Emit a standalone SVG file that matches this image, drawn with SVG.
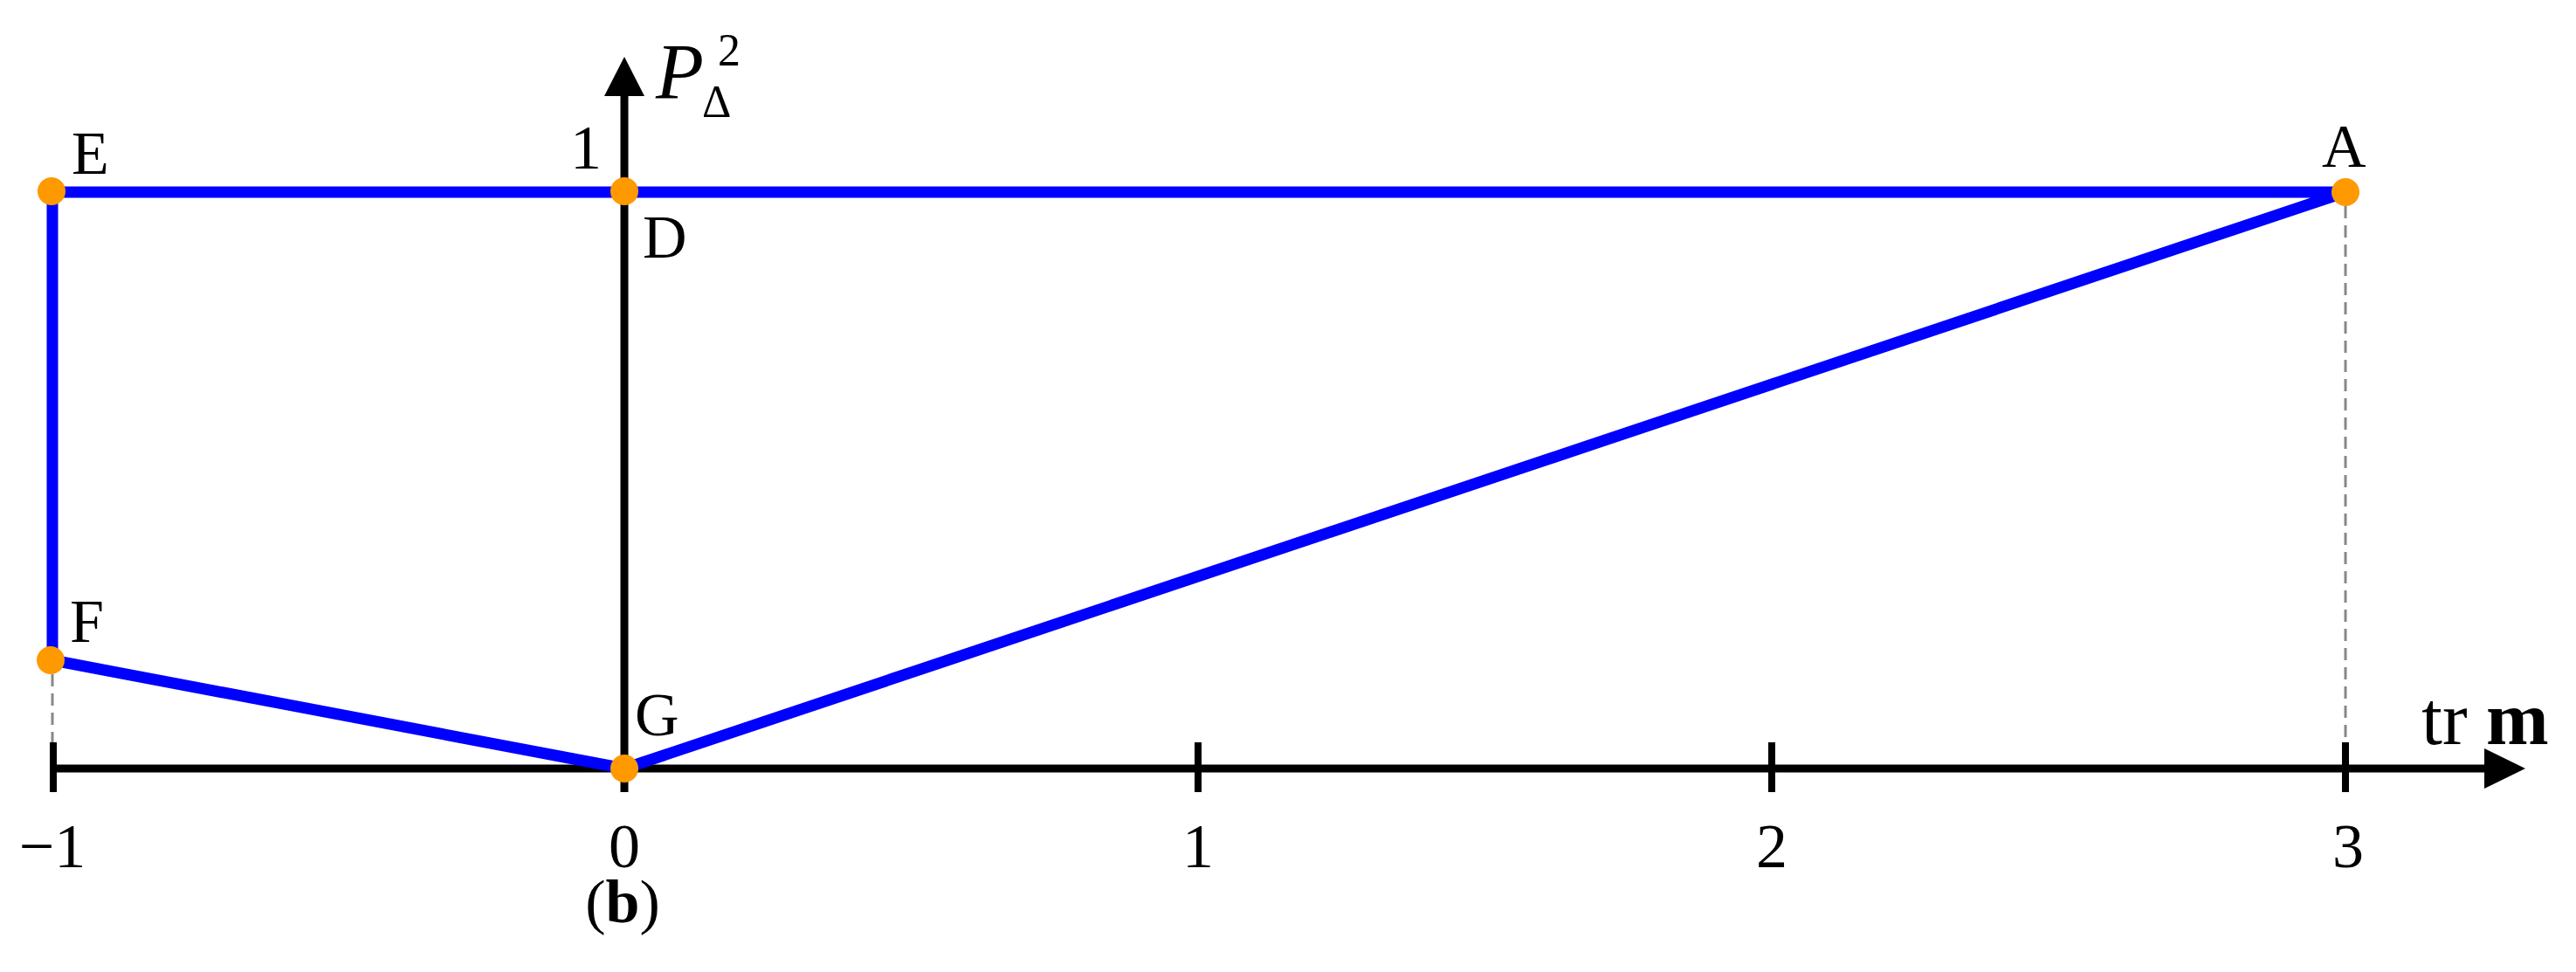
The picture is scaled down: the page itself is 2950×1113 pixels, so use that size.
<svg xmlns="http://www.w3.org/2000/svg" width="2950" height="1113" viewBox="0 0 2950 1113">
<style>
.t{font-family:"Liberation Serif","Times New Roman",serif;fill:#000}
.blue{stroke:#0000FF;stroke-width:13;fill:none;stroke-linejoin:miter}
.ax{stroke:#000;stroke-width:9;fill:none}
.tick{stroke:#000;stroke-width:8}
.dash{stroke:#888;stroke-width:3;stroke-dasharray:14 8;fill:none}
.dot{fill:#FF9900}
</style>
<rect width="2950" height="1113" fill="#fff"/>
<g id="axes">
<line class="dash" x1="2686" y1="236" x2="2686" y2="850"/>
<line class="dash" x1="60" y1="772" x2="60" y2="850"/>
<line class="ax" x1="59" y1="880" x2="2850" y2="880"/>
<polygon points="2845,857 2892,880 2845,903" fill="#000"/>
<line class="ax" x1="715" y1="907" x2="715" y2="105"/>
<polygon points="692,110 715,65 738,110" fill="#000"/>
<line class="tick" x1="61" y1="850" x2="61" y2="907"/>
<line class="tick" x1="1372" y1="850" x2="1372" y2="907"/>
<line class="tick" x1="2029" y1="850" x2="2029" y2="907"/>
<line class="tick" x1="2686" y1="850" x2="2686" y2="907"/>
<line class="tick" x1="688" y1="220" x2="743" y2="220"/>
</g>
<g id="connectors">
<polyline class="blue" points="2686,220 60,220 60,756 715,880 2686,220"/>
</g>
<g id="node-E"><circle class="dot" cx="59" cy="219" r="16"/><text class="t" x="82" y="199" font-size="70">E</text></g>
<g id="node-D"><circle class="dot" cx="715" cy="219" r="16"/><text class="t" x="736" y="295" font-size="70">D</text></g>
<g id="node-A"><circle class="dot" cx="2686" cy="220" r="16"/><text class="t" x="2659" y="191" font-size="70">A</text></g>
<g id="node-F"><circle class="dot" cx="58" cy="756" r="16"/><text class="t" x="80" y="735" font-size="70">F</text></g>
<g id="node-G"><circle class="dot" cx="715" cy="880" r="16"/><text class="t" x="727" y="842" font-size="70">G</text></g>
<g id="labels">
<text class="t" x="671" y="193" font-size="72" text-anchor="middle">1</text>
<text class="t" x="751" y="113" font-size="90" font-style="italic">P</text>
<text class="t" x="822" y="75" font-size="52">2</text>
<text class="t" x="804" y="134" font-size="52">Δ</text>
<text class="t" x="2773" y="852" font-size="86">tr <tspan font-weight="bold">m</tspan></text>
<text class="t" x="60" y="993" font-size="72" text-anchor="middle">−1</text>
<text class="t" x="715" y="993" font-size="72" text-anchor="middle">0</text>
<text class="t" x="1372" y="993" font-size="72" text-anchor="middle">1</text>
<text class="t" x="2029" y="993" font-size="72" text-anchor="middle">2</text>
<text class="t" x="2689" y="993" font-size="72" text-anchor="middle">3</text>
<text class="t" x="713" y="1056" font-size="70" text-anchor="middle">(<tspan font-weight="bold">b</tspan>)</text>
</g>
</svg>
